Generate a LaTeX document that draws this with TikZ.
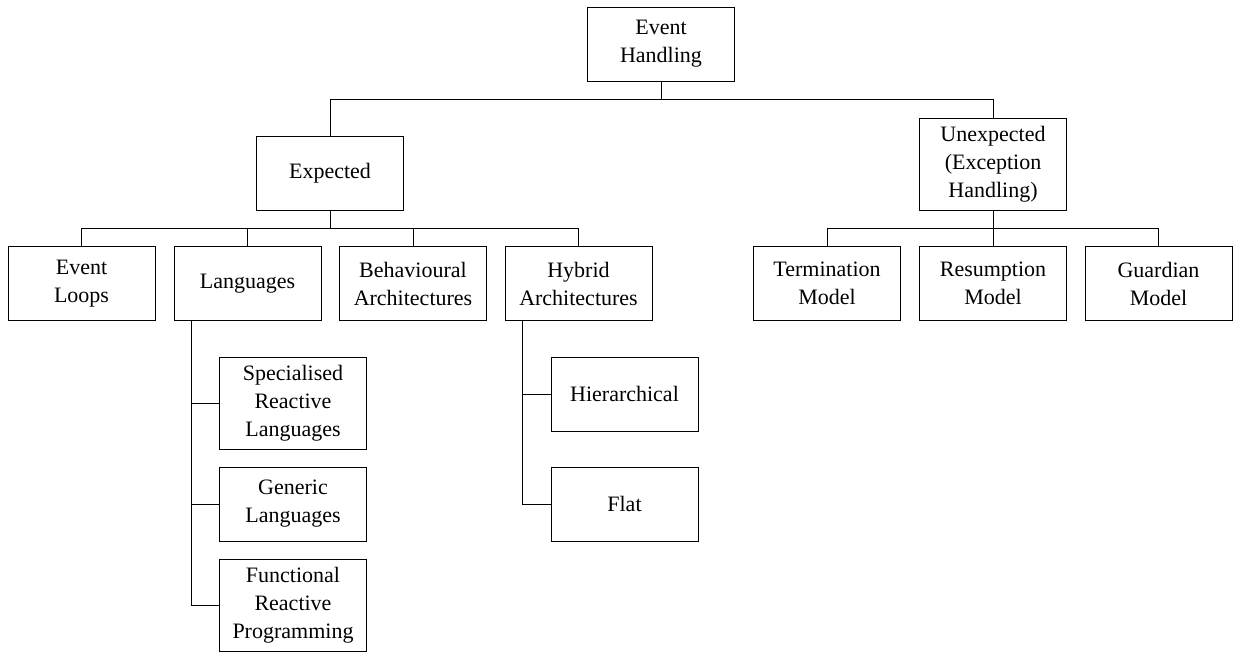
\documentclass[tikz,border=0pt]{standalone}
\usepackage{fontspec}
\setmainfont{Liberation Serif}
\usepackage{tikz}

\tikzset{
    box/.style={draw, line width=1pt, minimum width=147pt, minimum height=74pt, align=center, inner sep=2pt, font=\fontsize{22}{28}\selectfont},
    tallbox/.style={box, minimum height=92pt},
    link/.style={line width=1pt}
}

\begin{document}
\begin{tikzpicture}[x=1pt, y=-1pt]
    \useasboundingbox (0,0) rectangle (1234,653);

    % Root of the tree
    \node[box] (Root) at (661,44) {Event\\Handling};

    % Second level
    \node[box] (Expected) at (330,173) {Expected};
    \node[tallbox] (Unexpected) at (993,164) {Unexpected\\(Exception\\Handling)};

    % Third level, expected events
    \node[box] (Loops) at (81.5,283.5) {Event\\Loops};
    \node[box] (Languages) at (247.5,283.5) {Languages};
    \node[box] (Behavioural) at (413,283.5) {Behavioural\\Architectures};
    \node[box] (Hybrid) at (578.5,283.5) {Hybrid\\Architectures};

    % Third level, exception handling
    \node[box] (Termination) at (827,283.5) {Termination\\Model};
    \node[box] (Resumption) at (993,283.5) {Resumption\\Model};
    \node[box] (Guardian) at (1158.5,283.5) {Guardian\\Model};

    % Kinds of languages
    \node[tallbox] (Specialised) at (293,403) {Specialised\\Reactive\\Languages};
    \node[box] (Generic) at (293,504) {Generic\\Languages};
    \node[tallbox] (Functional) at (293,605.5) {Functional\\Reactive\\Programming};

    % Kinds of hybrid architectures
    \node[box] (Hierarchical) at (624.5,394) {Hierarchical};
    \node[box] (Flat) at (624.5,504) {Flat};

    % Connect the levels
    \foreach \child in {Expected, Unexpected}
        \draw[link] (Root.south) -- ++(0,18) -| (\child.north);
    \foreach \child in {Loops, Languages, Behavioural, Hybrid}
        \draw[link] (Expected.south) -- ++(0,18) -| (\child.north);
    \foreach \child in {Termination, Resumption, Guardian}
        \draw[link] (Unexpected.south) -- ++(0,18) -| (\child.north);

    % Side branches
    \foreach \child in {Specialised, Generic, Functional}
        \draw[link] ([xshift=18pt]Languages.south west) |- (\child.west);
    \foreach \child in {Hierarchical, Flat}
        \draw[link] ([xshift=18pt]Hybrid.south west) |- (\child.west);

\end{tikzpicture}
\end{document}
